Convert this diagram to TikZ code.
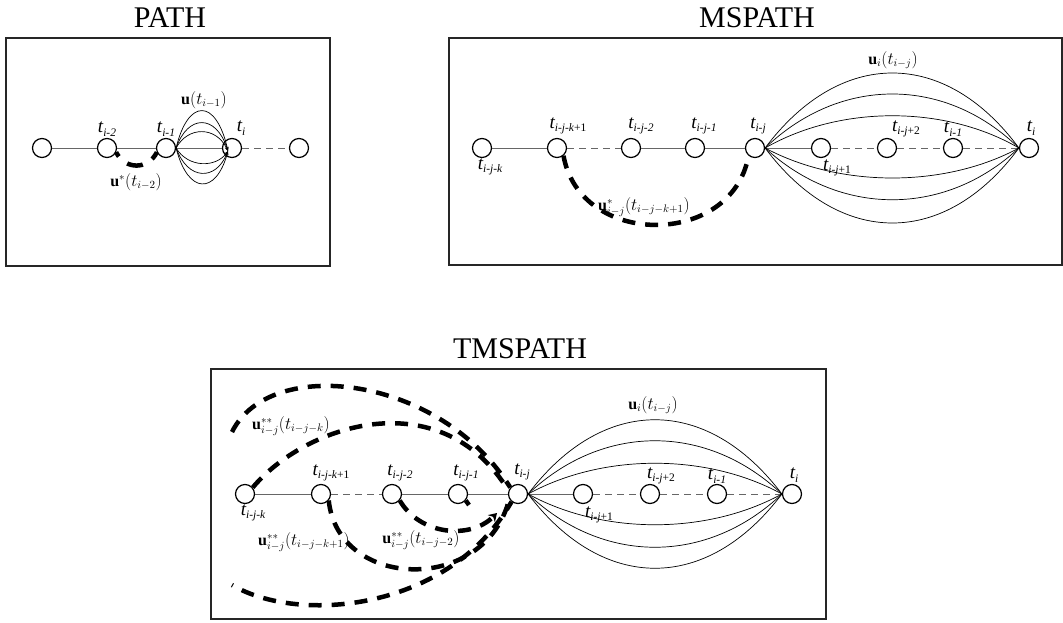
\documentclass[tikz,border=0pt]{standalone}
\usepackage{fontspec}
\setmainfont{Liberation Serif}
\usetikzlibrary{arrows.meta}
\newcommand{\tlab}[1]{{\fontsize{19}{19}\selectfont\itshape t}\raisebox{-3.5pt}{\fontsize{11.5}{11.5}\selectfont\itshape #1}}
\begin{document}
\begin{tikzpicture}[x=1pt,y=-1pt,
  st/.style={circle,draw,fill=white,line width=1.2pt,minimum size=19pt,inner sep=0pt},
  ln/.style={draw=black!60,line width=0.9pt},
  dl/.style={ln,dash pattern=on 7pt off 5pt},
  cv/.style={line width=0.7pt},
  tk/.style={line width=4.5pt,dash pattern=on 13pt off 10pt},
  tl/.style={inner sep=0pt},
  ml/.style={font=\fontsize{16}{16}\selectfont,inner sep=0pt},
  ttl/.style={font=\fontsize{30}{30}\selectfont,inner sep=0pt},
  bx/.style={draw=black!85,line width=1.2pt},
  sa/.style={-{Stealth[length=4pt,width=3pt]}}]
\useasboundingbox (0,0) rectangle (1063,623);

% ---------------- PATH ----------------
\node[ttl] (tp) at (170,18) {PATH};
\draw[bx] (6,38) rectangle (330,266);
\node[st] (p1) at (42,148) {};
\node[st] (p2) at (107,148) {};
\node[st] (p3) at (166,148) {};
\node[st] (p4) at (232,148) {};
\node[st] (p5) at (299,148) {};
\draw[ln] (p1) -- (p2);
\draw[ln] (p2) -- (p3);
\draw[ln] (p3) -- (p4);
\draw[dl] (p4) -- (p5);
\coordinate (p4t) at (228,151);
\foreach \c in {98,114,126,168,181,195}
  \draw[cv,sa] (p3.east) .. controls (188,\c) and (216,\c) .. (p4t);
\draw[line width=4.5pt,dash pattern=on 5pt off 11pt on 16pt off 11pt on 20pt]
  (p2.-25) .. controls (125,170) and (148,170) .. (p3.205);
\node[tl] (lp2) at (107,129) {\tlab{i-2}};
\node[tl] (lp3) at (166,129) {\tlab{i-1}};
\node[tl] (lp4) at (241,128) {\tlab{i}};
\node[ml] (up) at (204,100) {$\mathbf{u}(t_{i-1})$};
\node[ml] (usp) at (136,182) {$\mathbf{u}^{*}(t_{i-2})$};

% ---------------- MSPATH ----------------
\node[ttl] (tm) at (757,18) {MSPATH};
\draw[bx] (449,38) rectangle (1062,265);
\foreach \n/\x in {1/482,2/557,3/631,4/695,5/755,6/821,7/887,8/953,9/1029}
  \node[st] (m\n) at (\x,148) {};
\draw[ln] (m1) -- (m2);
\draw[dl] (m2) -- (m3);
\draw[ln] (m3) -- (m4);
\draw[ln] (m4) -- (m5);
\draw[ln] (m5) -- (m6);
\draw[dl] (m6) -- (m7);
\draw[dl] (m7) -- (m8);
\draw[dl] (m8) -- (m9);
\foreach \c in {48,76,105,188,217,248}
  \draw[cv] (m5.east) .. controls (840,\c) and (945,\c) .. (m9.west);
\draw[tk] (m2.-50) .. controls (580,248) and (732,248) .. (m5.-130);
\node[tl] (lm1) at (490,167) {\tlab{i-j-k}};
\node[tl] (lm2) at (568,126) {\tlab{i-j-k\textup{+1}}};
\node[tl] (lm3) at (641,126) {\tlab{i-j-2}};
\node[tl] (lm4) at (704,126) {\tlab{i-j-1}};
\node[tl] (lm5) at (758,126) {\tlab{i-j}};
\node[tl] (lm6) at (837,168) {\tlab{i-j\textup{+1}}};
\node[tl] (lm7) at (906,129) {\tlab{i-j\textup{+2}}};
\node[tl] (lm8) at (953,129) {\tlab{i-1}};
\node[tl] (lm9) at (1031,128) {\tlab{i}};
\node[ml] (um) at (893,60) {$\mathbf{u}_{i}(t_{i-j})$};
\node[ml] (usm) at (644,207) {$\mathbf{u}^{*}_{i-j}(t_{i-j-k+1})$};

% ---------------- TMSPATH ----------------
\node[ttl] (tt) at (520,349) {TMSPATH};
\draw[bx] (211,369) rectangle (826,619);
\foreach \n/\x in {1/245,2/321,3/392,4/458,5/518,6/583,7/650,8/717,9/792}
  \node[st] (n\n) at (\x,494) {};
\draw[ln] (n1) -- (n2);
\draw[dl] (n2) -- (n3);
\draw[ln] (n3) -- (n4);
\draw[ln] (n4) -- (n5);
\draw[ln] (n5) -- (n6);
\draw[dl] (n6) -- (n7);
\draw[dl] (n7) -- (n8);
\draw[dl] (n8) -- (n9);
\foreach \c in {395,423,453,535,565,593}
  \draw[cv] (n5.east) .. controls (603,\c) and (707,\c) .. (n9.west);
\coordinate (a0) at (232,432);
\coordinate (e0) at (232,585);
\coordinate (d1) at (497,513);
\coordinate (s4) at (469,505);
\draw[tk] (a0) .. controls (270,355) and (440,375) .. (n5.140);
\draw[tk] (n1.40) .. controls (305,425) and (440,380) .. (n5.160);
\draw[tk] (n2.-40) .. controls (338,590) and (485,595) .. (n5.-150);
\draw[tk,-{Stealth[length=8pt,width=10pt]}] (n3.-40) .. controls (420,535) and (470,540) .. (d1);
\draw[tk,dash phase=12pt] (e0) .. controls (300,625) and (450,610) .. (n5.-130);
\draw[line width=4.5pt] (n4.-40) -- (s4);
\node[tl] (ln1) at (253,513) {\tlab{i-j-k}};
\node[tl] (ln2) at (331,473) {\tlab{i-j-k\textup{+1}}};
\node[tl] (ln3) at (400,473) {\tlab{i-j-2}};
\node[tl] (ln4) at (466,473) {\tlab{i-j-1}};
\node[tl] (ln5) at (522,472) {\tlab{i-j}};
\node[tl] (ln6) at (599,515) {\tlab{i-j\textup{+1}}};
\node[tl] (ln7) at (661,476) {\tlab{i-j\textup{+2}}};
\node[tl] (ln8) at (717,476) {\tlab{i-1}};
\node[tl] (ln9) at (794,475) {\tlab{i}};
\node[ml] (ut) at (653,405) {$\mathbf{u}_{i}(t_{i-j})$};
\node[ml] (us1) at (291,426) {$\mathbf{u}^{**}_{i-j}(t_{i-j-k})$};
\node[ml] (us2) at (304,542) {$\mathbf{u}^{**}_{i-j}(t_{i-j-k+1})$};
\node[ml] (us3) at (421,540) {$\mathbf{u}^{**}_{i-j}(t_{i-j-2})$};
\end{tikzpicture}
\end{document}
